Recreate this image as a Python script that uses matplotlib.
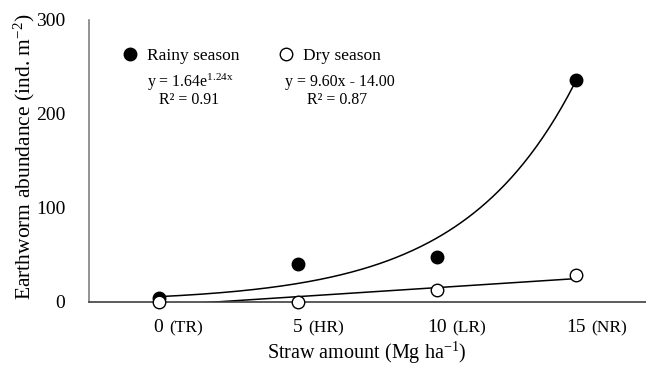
import numpy as np
import matplotlib
matplotlib.use("Agg")
import matplotlib.pyplot as plt
import matplotlib.transforms as mtransforms

# ---- data ----
straw = ["0", "5", "10", "15"]
treat = ["(TR)", "(HR)", "(LR)", "(NR)"]
rainy = [4, 40, 48, 236]
dry = [0.5, 0.5, 12.5, 28.5]
yticks = [0, 100, 200, 300]
rainy_eq = r"y = 1.64e$^{\mathregular{1.24x}}$"
rainy_r2 = "R² = 0.91"
dry_eq = "y = 9.60x - 14.00"
dry_r2 = "R² = 0.87"

plt.rcParams["font.family"] = ["Liberation Serif", "DejaVu Serif"]
plt.rcParams["mathtext.fontset"] = "custom"
plt.rcParams["mathtext.rm"] = "Liberation Serif"
plt.rcParams["mathtext.it"] = "Liberation Serif:italic"

fig = plt.figure(figsize=(6.46, 3.65), dpi=100)
ax = fig.add_axes([89 / 646, 1 - 302 / 365, 1 - 89 / 646, (302 - 20) / 365])

x = np.arange(1, len(straw) + 1)

# trend lines
xs = np.linspace(1, 4, 200)
b, a = np.polyfit(x, np.log(rainy), 1)
ax.plot(xs, np.exp(a) * np.exp(b * xs), color="black", lw=1.1, zorder=2)
m, c = np.polyfit(x, dry, 1)
ax.plot(xs, m * xs + c, color="black", lw=1.1, zorder=2)

ax.plot(x, rainy, "o", ls="none", ms=9, mfc="black", mec="black",
        label="Rainy season", zorder=3, clip_on=False)
ax.plot(x, dry, "o", ls="none", ms=9, mfc="white", mec="black", mew=1.0,
        label="Dry season", zorder=3, clip_on=False)

ax.set_xlim(0.5, 4.5)
ax.set_ylim(0, 300)
ax.set_yticks(yticks)
ax.set_yticklabels([str(v) for v in yticks], fontsize=14)
ax.set_xticks(x)
ax.set_xticklabels([])
ax.tick_params(axis="both", length=0)
ax.tick_params(axis="y", pad=17)
for s in ["top", "right"]:
    ax.spines[s].set_visible(False)
ax.spines["left"].set_color("#808080")
ax.spines["bottom"].set_color("#404040")
ax.spines["left"].set_linewidth(1.2)
ax.spines["bottom"].set_linewidth(1.2)

# x tick labels with mixed sizes
trans = mtransforms.blended_transform_factory(ax.transData, fig.transFigure)
for xi, s, t in zip(x, straw, treat):
    tn = ax.text(xi, 1 - 328 / 365, s, transform=trans, ha="center",
                 va="center", fontsize=14)
    ax.annotate(t, xy=(1, 0), xycoords=tn, xytext=(4, 0),
                textcoords="offset points", ha="left", va="bottom",
                fontsize=12.5)

fig.text(367 / 646, 1 - 353 / 365, r"Straw amount (Mg ha$^{\mathregular{-1}}$)",
         ha="center", va="center", fontsize=14.5)
fig.text(24 / 646, 1 - 157 / 365, r"Earthworm abundance (ind. m$^{\mathregular{-2}}$)",
         ha="center", va="center", rotation=90, fontsize=15.5)

leg = ax.legend(loc="upper left", bbox_to_anchor=(121 / 646, 1 - 48 / 365),
                bbox_transform=fig.transFigure, ncol=2, frameon=False,
                numpoints=1, handlelength=1.0, handletextpad=0.5,
                columnspacing=2.15, fontsize=12.5, borderpad=0, borderaxespad=0)

fig.text(190 / 646, 1 - 82 / 365, rainy_eq, ha="center", va="center", fontsize=11.4)
fig.text(189 / 646, 1 - 100 / 365, rainy_r2, ha="center", va="center", fontsize=11.4)
fig.text(340 / 646, 1 - 82 / 365, dry_eq, ha="center", va="center", fontsize=11.4)
fig.text(337 / 646, 1 - 100 / 365, dry_r2, ha="center", va="center", fontsize=11.4)

fig.savefig("out.png", dpi=100)
